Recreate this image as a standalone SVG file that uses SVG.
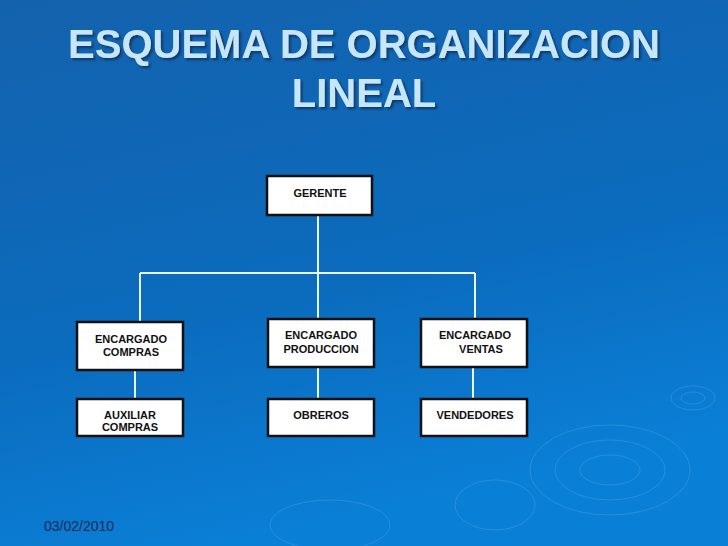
<svg xmlns="http://www.w3.org/2000/svg" width="728" height="546" viewBox="0 0 728 546">
<defs>
<linearGradient id="bg" x1="0" y1="0" x2="0.3" y2="1">
<stop offset="0" stop-color="#1462ad"/><stop offset="0.6" stop-color="#0b6bbd"/><stop offset="1" stop-color="#0a7fd6"/>
</linearGradient>
<filter id="sh"><feDropShadow dx="2" dy="2" stdDeviation="1" flood-color="#0a2a55" flood-opacity="0.8"/></filter>
</defs>
<style>
.box{fill:#fff;stroke:#111;stroke-width:2.5}
.t{font-family:"Liberation Sans",Arial,sans-serif;font-size:11px;font-weight:bold;fill:#111;text-anchor:middle}
.c{stroke:#e8f4ff;stroke-width:2;fill:none}
.title{font-family:"Liberation Sans",Arial,sans-serif;font-size:40px;font-weight:bold;fill:#c6e6fa;text-anchor:middle}
.rip{fill:none;stroke:#5aaee8;stroke-opacity:0.35}
</style>
<rect width="728" height="546" fill="url(#bg)"/>
<g>
<ellipse class="rip" cx="610" cy="470" rx="80" ry="45"/><ellipse class="rip" cx="610" cy="470" rx="55" ry="30"/><ellipse class="rip" cx="610" cy="470" rx="30" ry="15"/>
<ellipse class="rip" cx="693" cy="398" rx="22" ry="12"/><ellipse class="rip" cx="693" cy="398" rx="12" ry="6"/>
<ellipse class="rip" cx="495" cy="505" rx="40" ry="25"/><ellipse class="rip" cx="330" cy="525" rx="60" ry="25"/>
</g>
<g filter="url(#sh)">
<text class="title" x="364" y="58">ESQUEMA DE ORGANIZACION</text>
<text class="title" x="364" y="107">LINEAL</text>
</g>
<g id="connectors">
<path class="c" d="M318 215V319M140 273H475M140 273V322M475 273V319M135 370V399M318 367V399M473 367V399"/>
</g>
<g id="gerente"><rect class="box" x="267" y="176" width="105" height="39"/><text class="t" x="320" y="197">GERENTE</text></g>
<g id="enc-compras"><rect class="box" x="77" y="322" width="106" height="48"/><text class="t" x="131" y="343">ENCARGADO</text><text class="t" x="131" y="356">COMPRAS</text></g>
<g id="enc-produccion"><rect class="box" x="268" y="319" width="106" height="48"/><text class="t" x="321" y="339">ENCARGADO</text><text class="t" x="321" y="353">PRODUCCION</text></g>
<g id="enc-ventas"><rect class="box" x="421" y="319" width="106" height="48"/><text class="t" x="475" y="339">ENCARGADO</text><text class="t" x="481" y="353">VENTAS</text></g>
<g id="auxiliar"><rect class="box" x="77" y="399" width="106" height="37"/><text class="t" x="130" y="419">AUXILIAR</text><text class="t" x="130" y="431">COMPRAS</text></g>
<g id="obreros"><rect class="box" x="268" y="399" width="106" height="37"/><text class="t" x="321" y="419">OBREROS</text></g>
<g id="vendedores"><rect class="box" x="421" y="399" width="106" height="37"/><text class="t" x="475" y="419">VENDEDORES</text></g>
<text x="44" y="531" font-family="Liberation Sans,Arial,sans-serif" font-size="14" fill="#0a2a55">03/02/2010</text>
</svg>
